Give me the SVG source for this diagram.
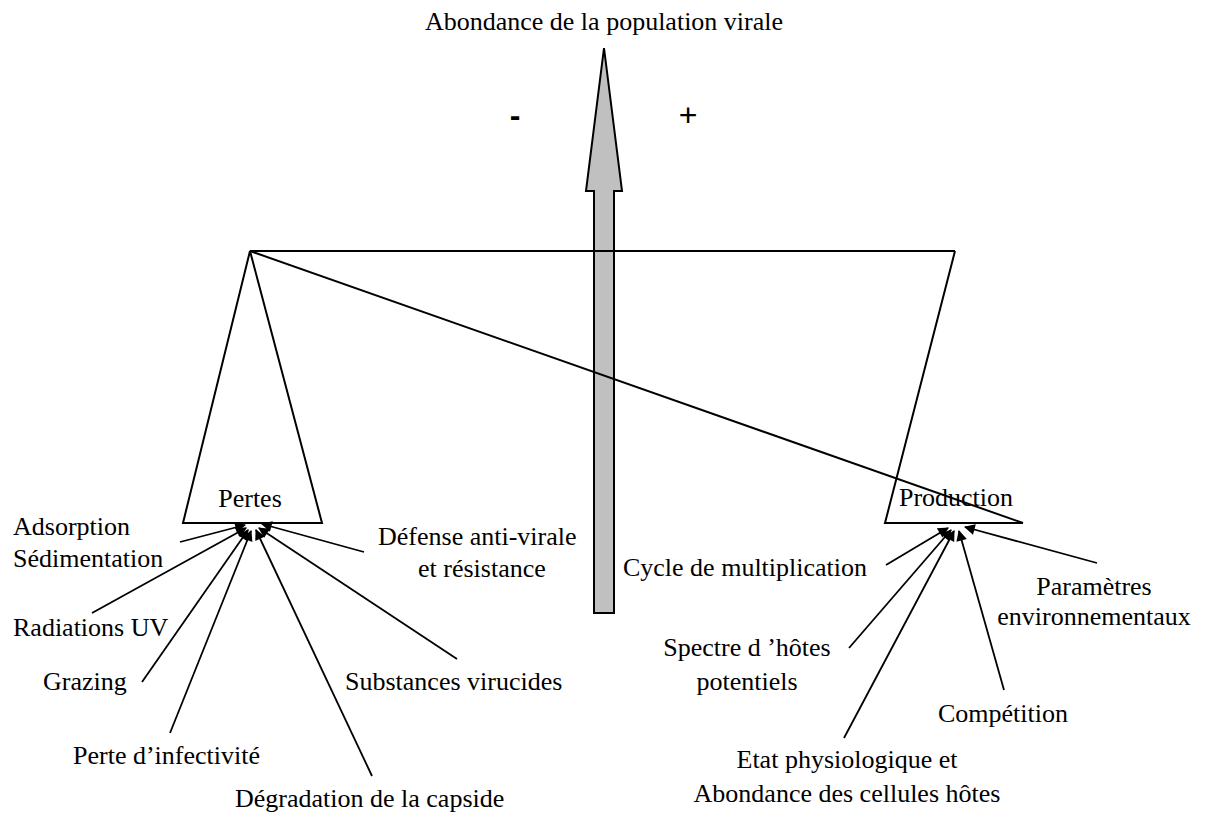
<svg xmlns="http://www.w3.org/2000/svg" width="1206" height="816" viewBox="0 0 1206 816" font-family="'Liberation Serif', 'Times New Roman', serif">
<style>
text{font-family:'Liberation Serif','Times New Roman',serif;font-size:26px;fill:#000}
text.sign{font-family:'Liberation Sans',Arial,sans-serif;font-size:32px}
.ln{stroke:#000;stroke-width:2;fill:none}
.c{stroke:#000;stroke-width:1.8;fill:none;marker-end:url(#ah)}
.m{text-anchor:middle}
</style>
<defs>
<marker id="ah" viewBox="0 0 10 10" refX="9" refY="5" markerWidth="7" markerHeight="6" orient="auto" markerUnits="strokeWidth">
<path d="M0,0 L10,5 L0,10 z" fill="#000"/>
</marker>
</defs>
<rect width="1206" height="816" fill="#fff"/>
<g id="abondance">
<path d="M604,48 L622,191 L614,191 L614,613 L594,613 L594,191 L586,191 Z" fill="#c0c0c0" stroke="#000" stroke-width="2"/>
<text x="604" y="30" class="m">Abondance de la population virale</text>
<text x="515" y="126" class="sign m" font-weight="bold">-</text>
<text x="688" y="126" class="sign m">+</text>
</g>
<g id="balance">
<line x1="250" y1="251" x2="955" y2="251" class="ln"/>
<line x1="250" y1="251" x2="1023" y2="523" class="ln"/>
</g>
<g id="pertes">
<path d="M250,251 L183,523 L322,523 Z" class="ln"/>
<text x="250" y="507" class="m">Pertes</text>
</g>
<g id="production">
<path d="M955,251 L885,523 L1023,523" class="ln"/>
<text x="956" y="506" class="m">Production</text>
</g>
<g id="connectors">
<line x1="180" y1="542" x2="245" y2="525" class="c"/>
<line x1="92" y1="613" x2="246" y2="528" class="c"/>
<line x1="142" y1="682" x2="248" y2="530" class="c"/>
<line x1="170" y1="733" x2="251" y2="531" class="c"/>
<line x1="372" y1="776" x2="256" y2="530" class="c"/>
<line x1="457" y1="659" x2="259" y2="528" class="c"/>
<line x1="364" y1="552" x2="262" y2="524" class="c"/>
<line x1="886" y1="565" x2="948" y2="528" class="c"/>
<line x1="849" y1="648" x2="951" y2="530" class="c"/>
<line x1="844" y1="738" x2="954" y2="531" class="c"/>
<line x1="1004" y1="690" x2="959" y2="531" class="c"/>
<line x1="1097" y1="563" x2="965" y2="527" class="c"/>
</g>
<g id="adsorption"><text x="13" y="535">Adsorption</text><text x="13" y="567">Sédimentation</text></g>
<g id="radiations"><text x="13" y="636">Radiations UV</text></g>
<g id="grazing"><text x="43" y="690">Grazing</text></g>
<g id="perte-infectivite"><text x="73" y="764">Perte d’infectivité</text></g>
<g id="degradation"><text x="235" y="807">Dégradation de la capside</text></g>
<g id="substances"><text x="345" y="690">Substances virucides</text></g>
<g id="defense"><text x="378" y="545">Défense anti-virale</text><text x="418" y="577">et résistance</text></g>
<g id="cycle"><text x="745" y="576" class="m">Cycle de multiplication</text></g>
<g id="spectre"><text x="747" y="656" class="m">Spectre d ’hôtes</text><text x="747" y="690" class="m">potentiels</text></g>
<g id="parametres"><text x="1094" y="595" class="m">Paramètres</text><text x="1094" y="625" class="m">environnementaux</text></g>
<g id="competition"><text x="938" y="722">Compétition</text></g>
<g id="etat"><text x="847" y="768" class="m">Etat physiologique et</text><text x="847" y="802" class="m">Abondance des cellules hôtes</text></g>
</svg>
